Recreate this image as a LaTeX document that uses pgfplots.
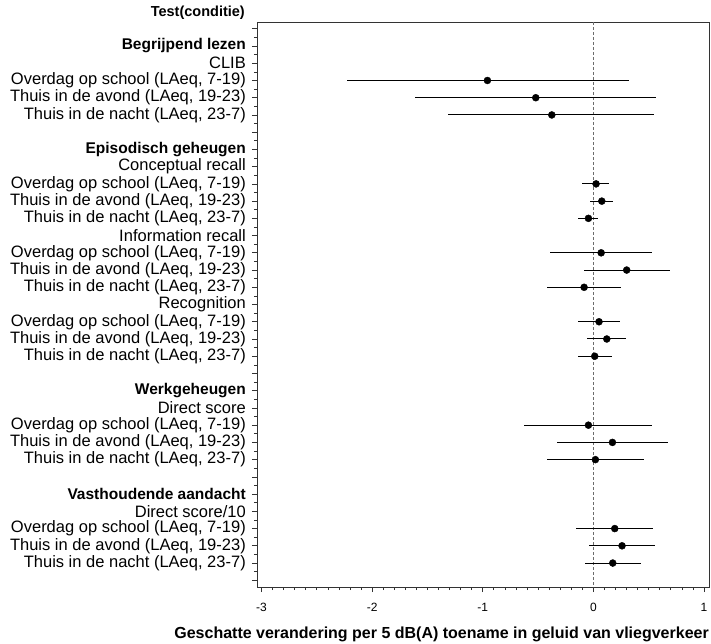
\documentclass[border=0pt]{standalone}
\usepackage{pgfplots}
\usepackage{pgfplotstable}
\pgfplotsset{compat=1.18}
\usepackage{fontspec}
\setmainfont{Liberation Sans}

\pgfplotstableread{
row est lo hi
3 -0.958 -2.231 0.320
4 -0.521 -1.611 0.569
5 -0.376 -1.310 0.551
9 0.024 -0.099 0.145
10 0.076 -0.030 0.181
11 -0.045 -0.138 0.045
13 0.070 -0.391 0.530
14 0.301 -0.087 0.690
15 -0.084 -0.418 0.253
17 0.051 -0.138 0.241
18 0.121 -0.054 0.292
19 0.012 -0.138 0.169
23 -0.045 -0.623 0.527
24 0.172 -0.328 0.678
25 0.018 -0.418 0.461
29 0.193 -0.156 0.539
30 0.259 -0.039 0.560
31 0.175 -0.078 0.434
}\datatable

\newcommand{\hd}[1]{{\fontsize{15.5bp}{18bp}\selectfont\bfseries #1}}

\begin{document}
\begin{tikzpicture}
\begin{axis}[
  scale only axis,
  width=452bp, height=565bp,
  xmin=-3.041, xmax=1.045,
  ymin=-0.393, ymax=32.39,
  y dir=reverse,
  axis line style={black!80, line width=0.8bp},
  tick style={black!80, line width=0.7bp},
  tick align=outside,
  major tick length=5bp,
  minor tick length=3bp,
  xtick={-3,-2,-1,0,1},
  minor x tick num=9,
  ytick={0,...,32},
  minor y tick num=1,
  xtick pos=bottom,
  ytick pos=left,
  yticklabels={{},
    \hd{Begrijpend lezen}, CLIB,
    {Overdag op school (LAeq, 7-19)}, {Thuis in de avond (LAeq, 19-23)}, {Thuis in de nacht (LAeq, 23-7)},
    {},
    \hd{Episodisch geheugen}, Conceptual recall,
    {Overdag op school (LAeq, 7-19)}, {Thuis in de avond (LAeq, 19-23)}, {Thuis in de nacht (LAeq, 23-7)},
    Information recall,
    {Overdag op school (LAeq, 7-19)}, {Thuis in de avond (LAeq, 19-23)}, {Thuis in de nacht (LAeq, 23-7)},
    Recognition,
    {Overdag op school (LAeq, 7-19)}, {Thuis in de avond (LAeq, 19-23)}, {Thuis in de nacht (LAeq, 23-7)},
    {},
    \hd{Werkgeheugen}, Direct score,
    {Overdag op school (LAeq, 7-19)}, {Thuis in de avond (LAeq, 19-23)}, {Thuis in de nacht (LAeq, 23-7)},
    {},
    \hd{Vasthoudende aandacht}, Direct score/10,
    {Overdag op school (LAeq, 7-19)}, {Thuis in de avond (LAeq, 19-23)}, {Thuis in de nacht (LAeq, 23-7)},
    {}},
  yticklabel style={font=\fontsize{16.5bp}{18bp}\selectfont, anchor=east, inner sep=0pt, xshift=-6bp},
  xticklabel style={font=\fontsize{12bp}{14bp}\selectfont, anchor=north, inner sep=0pt, yshift=-11bp},
  /pgf/number format/assume math mode=true,
  xticklabel={\pgfmathprintnumber{\tick}},
  xlabel={\fontsize{16bp}{18bp}\selectfont\bfseries Geschatte verandering per 5 dB(A) toename in geluid van vliegverkeer},
  xlabel style={at={(axis description cs:1,0)}, anchor=base east, inner sep=0pt, yshift=-51bp},
  clip=false,
]
\addplot[gray!85!black, dashed, dash pattern=on 3bp off 2bp, line width=0.9bp] coordinates {(0,-0.393) (0,32.39)};
\addplot[only marks, mark=*, black, mark size=3.5bp,
  error bars/.cd, x dir=both, x explicit, error mark=none,
  error bar style={line width=1bp, black}]
  table[x=est, y=row,
        x error plus expr=\thisrow{hi}-\thisrow{est},
        x error minus expr=\thisrow{est}-\thisrow{lo}] \datatable;
\node[anchor=east, inner sep=0pt, xshift=-12bp, yshift=9bp, font=\fontsize{14.5bp}{17bp}\selectfont\bfseries] at (axis description cs:0,1) {Test(conditie)};
\end{axis}
\pgfresetboundingbox
\path ([shift={(-257bp,-57bp)}]current axis.south west) rectangle ([shift={(2bp,22bp)}]current axis.north east);
\end{tikzpicture}
\end{document}
